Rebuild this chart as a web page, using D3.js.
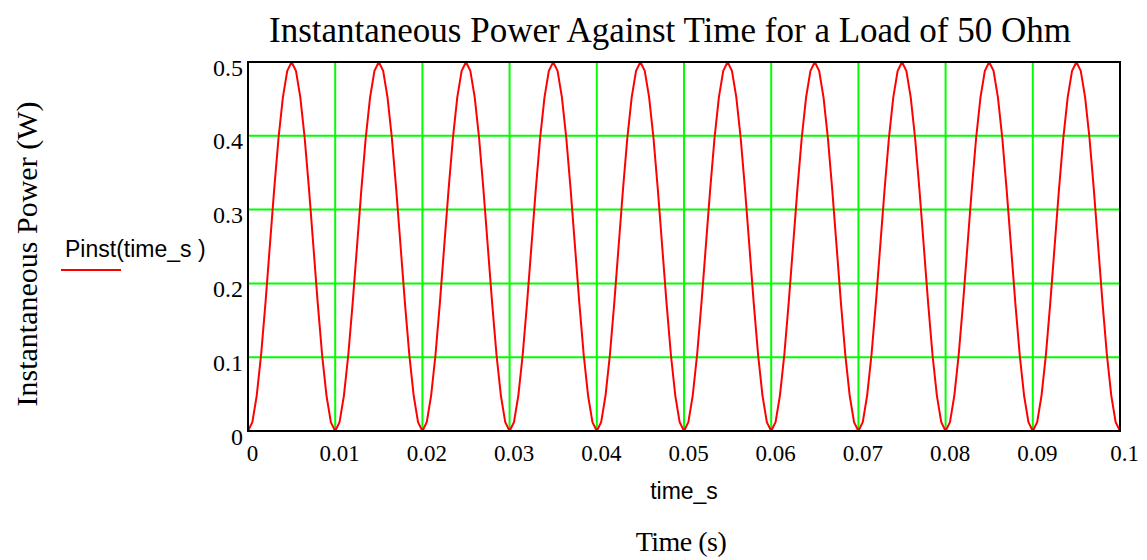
<!DOCTYPE html>
<html>
<head>
<meta charset="utf-8">
<script src="https://cdn.jsdelivr.net/npm/d3@7"></script>
<style>
  html, body { margin: 0; padding: 0; background: #fff; }
  svg { display: block; }
</style>
</head>
<body>
<svg id="chart" width="1147" height="560"></svg>
<script>
// ---- data ----
const titleText = "Instantaneous Power Against Time for a Load of 50 Ohm";
const yLabelText = "Instantaneous Power (W)";
const xLabelText = "Time (s)";
const xVarText = "time_s";
const legendText = "Pinst(time_s )";
const xTicks = [0, 0.01, 0.02, 0.03, 0.04, 0.05, 0.06, 0.07, 0.08, 0.09, 0.1];
const xTickLabels = ["0", "0.01", "0.02", "0.03", "0.04", "0.05", "0.06", "0.07", "0.08", "0.09", "0.1"];
const yTicks = [0, 0.1, 0.2, 0.3, 0.4, 0.5];
const yTickLabels = ["0", "0.1", "0.2", "0.3", "0.4", "0.5"];
// sample times (s), step 0.0005
const time_s = [
  0.0000,0.0005,0.0010,0.0015,0.0020,0.0025,0.0030,0.0035,0.0040,0.0045,0.0050,0.0055,0.0060,0.0065,0.0070,0.0075,0.0080,0.0085,0.0090,0.0095,
  0.0100,0.0105,0.0110,0.0115,0.0120,0.0125,0.0130,0.0135,0.0140,0.0145,0.0150,0.0155,0.0160,0.0165,0.0170,0.0175,0.0180,0.0185,0.0190,0.0195,
  0.0200,0.0205,0.0210,0.0215,0.0220,0.0225,0.0230,0.0235,0.0240,0.0245,0.0250,0.0255,0.0260,0.0265,0.0270,0.0275,0.0280,0.0285,0.0290,0.0295,
  0.0300,0.0305,0.0310,0.0315,0.0320,0.0325,0.0330,0.0335,0.0340,0.0345,0.0350,0.0355,0.0360,0.0365,0.0370,0.0375,0.0380,0.0385,0.0390,0.0395,
  0.0400,0.0405,0.0410,0.0415,0.0420,0.0425,0.0430,0.0435,0.0440,0.0445,0.0450,0.0455,0.0460,0.0465,0.0470,0.0475,0.0480,0.0485,0.0490,0.0495,
  0.0500,0.0505,0.0510,0.0515,0.0520,0.0525,0.0530,0.0535,0.0540,0.0545,0.0550,0.0555,0.0560,0.0565,0.0570,0.0575,0.0580,0.0585,0.0590,0.0595,
  0.0600,0.0605,0.0610,0.0615,0.0620,0.0625,0.0630,0.0635,0.0640,0.0645,0.0650,0.0655,0.0660,0.0665,0.0670,0.0675,0.0680,0.0685,0.0690,0.0695,
  0.0700,0.0705,0.0710,0.0715,0.0720,0.0725,0.0730,0.0735,0.0740,0.0745,0.0750,0.0755,0.0760,0.0765,0.0770,0.0775,0.0780,0.0785,0.0790,0.0795,
  0.0800,0.0805,0.0810,0.0815,0.0820,0.0825,0.0830,0.0835,0.0840,0.0845,0.0850,0.0855,0.0860,0.0865,0.0870,0.0875,0.0880,0.0885,0.0890,0.0895,
  0.0900,0.0905,0.0910,0.0915,0.0920,0.0925,0.0930,0.0935,0.0940,0.0945,0.0950,0.0955,0.0960,0.0965,0.0970,0.0975,0.0980,0.0985,0.0990,0.0995,
  0.1000
];
// Pinst(time_s) in W
const Pinst = [
  0,0.012,0.048,0.103,0.173,0.25,0.327,0.397,0.452,0.488,0.5,0.488,0.452,0.397,0.327,0.25,0.173,0.103,0.048,0.012,
  0,0.012,0.048,0.103,0.173,0.25,0.327,0.397,0.452,0.488,0.5,0.488,0.452,0.397,0.327,0.25,0.173,0.103,0.048,0.012,
  0,0.012,0.048,0.103,0.173,0.25,0.327,0.397,0.452,0.488,0.5,0.488,0.452,0.397,0.327,0.25,0.173,0.103,0.048,0.012,
  0,0.012,0.048,0.103,0.173,0.25,0.327,0.397,0.452,0.488,0.5,0.488,0.452,0.397,0.327,0.25,0.173,0.103,0.048,0.012,
  0,0.012,0.048,0.103,0.173,0.25,0.327,0.397,0.452,0.488,0.5,0.488,0.452,0.397,0.327,0.25,0.173,0.103,0.048,0.012,
  0,0.012,0.048,0.103,0.173,0.25,0.327,0.397,0.452,0.488,0.5,0.488,0.452,0.397,0.327,0.25,0.173,0.103,0.048,0.012,
  0,0.012,0.048,0.103,0.173,0.25,0.327,0.397,0.452,0.488,0.5,0.488,0.452,0.397,0.327,0.25,0.173,0.103,0.048,0.012,
  0,0.012,0.048,0.103,0.173,0.25,0.327,0.397,0.452,0.488,0.5,0.488,0.452,0.397,0.327,0.25,0.173,0.103,0.048,0.012,
  0,0.012,0.048,0.103,0.173,0.25,0.327,0.397,0.452,0.488,0.5,0.488,0.452,0.397,0.327,0.25,0.173,0.103,0.048,0.012,
  0,0.012,0.048,0.103,0.173,0.25,0.327,0.397,0.452,0.488,0.5,0.488,0.452,0.397,0.327,0.25,0.173,0.103,0.048,0.012,
  0
];

// ---- layout ----
const plot = { left: 248, top: 62, right: 1120, bottom: 431 };
const serif = "'Liberation Serif', 'Times New Roman', serif";
const sans = "'Liberation Sans', Arial, sans-serif";

const svg = d3.select("#chart");
const x = d3.scaleLinear().domain([0, 0.1]).range([plot.left, plot.right]);
const y = d3.scaleLinear().domain([0, 0.5]).range([plot.bottom, plot.top]);

// grid
const grid = svg.append("g");
grid.selectAll("line.v").data(xTicks.slice(1, -1)).join("line")
  .attr("x1", d => x(d)).attr("x2", d => x(d))
  .attr("y1", plot.top).attr("y2", plot.bottom)
  .attr("stroke", "#00ff00").attr("stroke-width", 2);
grid.selectAll("line.h").data(yTicks.slice(1, -1)).join("line")
  .attr("x1", plot.left).attr("x2", plot.right)
  .attr("y1", d => y(d)).attr("y2", d => y(d))
  .attr("stroke", "#00ff00").attr("stroke-width", 2);

// curve
const pts = time_s.map((t, i) => [t, Pinst[i]]);
svg.append("path").datum(pts)
  .attr("d", d3.line().x(d => x(d[0])).y(d => y(d[1])))
  .attr("fill", "none").attr("stroke", "#ff0000").attr("stroke-width", 2)
  .attr("stroke-linejoin", "round");

// frame
svg.append("rect")
  .attr("x", plot.left).attr("y", plot.top)
  .attr("width", plot.right - plot.left).attr("height", plot.bottom - plot.top)
  .attr("fill", "none").attr("stroke", "#000").attr("stroke-width", 2);

// axes (labels only, via d3 axes)
const xAxis = d3.axisBottom(x).tickValues(xTicks).tickSize(0)
  .tickFormat((d, i) => xTickLabels[i]);
const gx = svg.append("g").attr("transform", `translate(4,${plot.bottom})`).call(xAxis);
gx.select(".domain").remove();
gx.selectAll("text").attr("font-family", serif).attr("font-size", 23)
  .attr("fill", "#000").attr("dy", null).attr("y", 30);

const yAxis = d3.axisLeft(y).tickValues(yTicks).tickSize(0)
  .tickFormat((d, i) => yTickLabels[i]);
const gy = svg.append("g").attr("transform", `translate(243,0)`).call(yAxis);
gy.select(".domain").remove();
gy.selectAll("text").attr("font-family", serif).attr("font-size", 24)
  .attr("fill", "#000").attr("dy", null).attr("x", 0).attr("y", 13);

// title
svg.append("text").attr("x", 670).attr("y", 42).attr("text-anchor", "middle")
  .attr("font-family", serif).attr("font-size", 35).text(titleText);

// y label
svg.append("text").attr("transform", "translate(37,254) rotate(-90)")
  .attr("text-anchor", "middle").attr("font-family", serif).attr("font-size", 30)
  .text(yLabelText);

// x var label
svg.append("text").attr("x", 684).attr("y", 499).attr("text-anchor", "middle")
  .attr("font-family", sans).attr("font-size", 23).text(xVarText);

// x label
svg.append("text").attr("x", 681).attr("y", 551).attr("text-anchor", "middle")
  .attr("font-family", serif).attr("font-size", 28).attr("letter-spacing", -0.5)
  .text(xLabelText);

// legend
svg.append("text").attr("x", 65).attr("y", 257)
  .attr("font-family", sans).attr("font-size", 23)
  .text(legendText);
svg.append("line").attr("x1", 61).attr("x2", 121).attr("y1", 270).attr("y2", 270)
  .attr("stroke", "#ff0000").attr("stroke-width", 2);
</script>
</body>
</html>
